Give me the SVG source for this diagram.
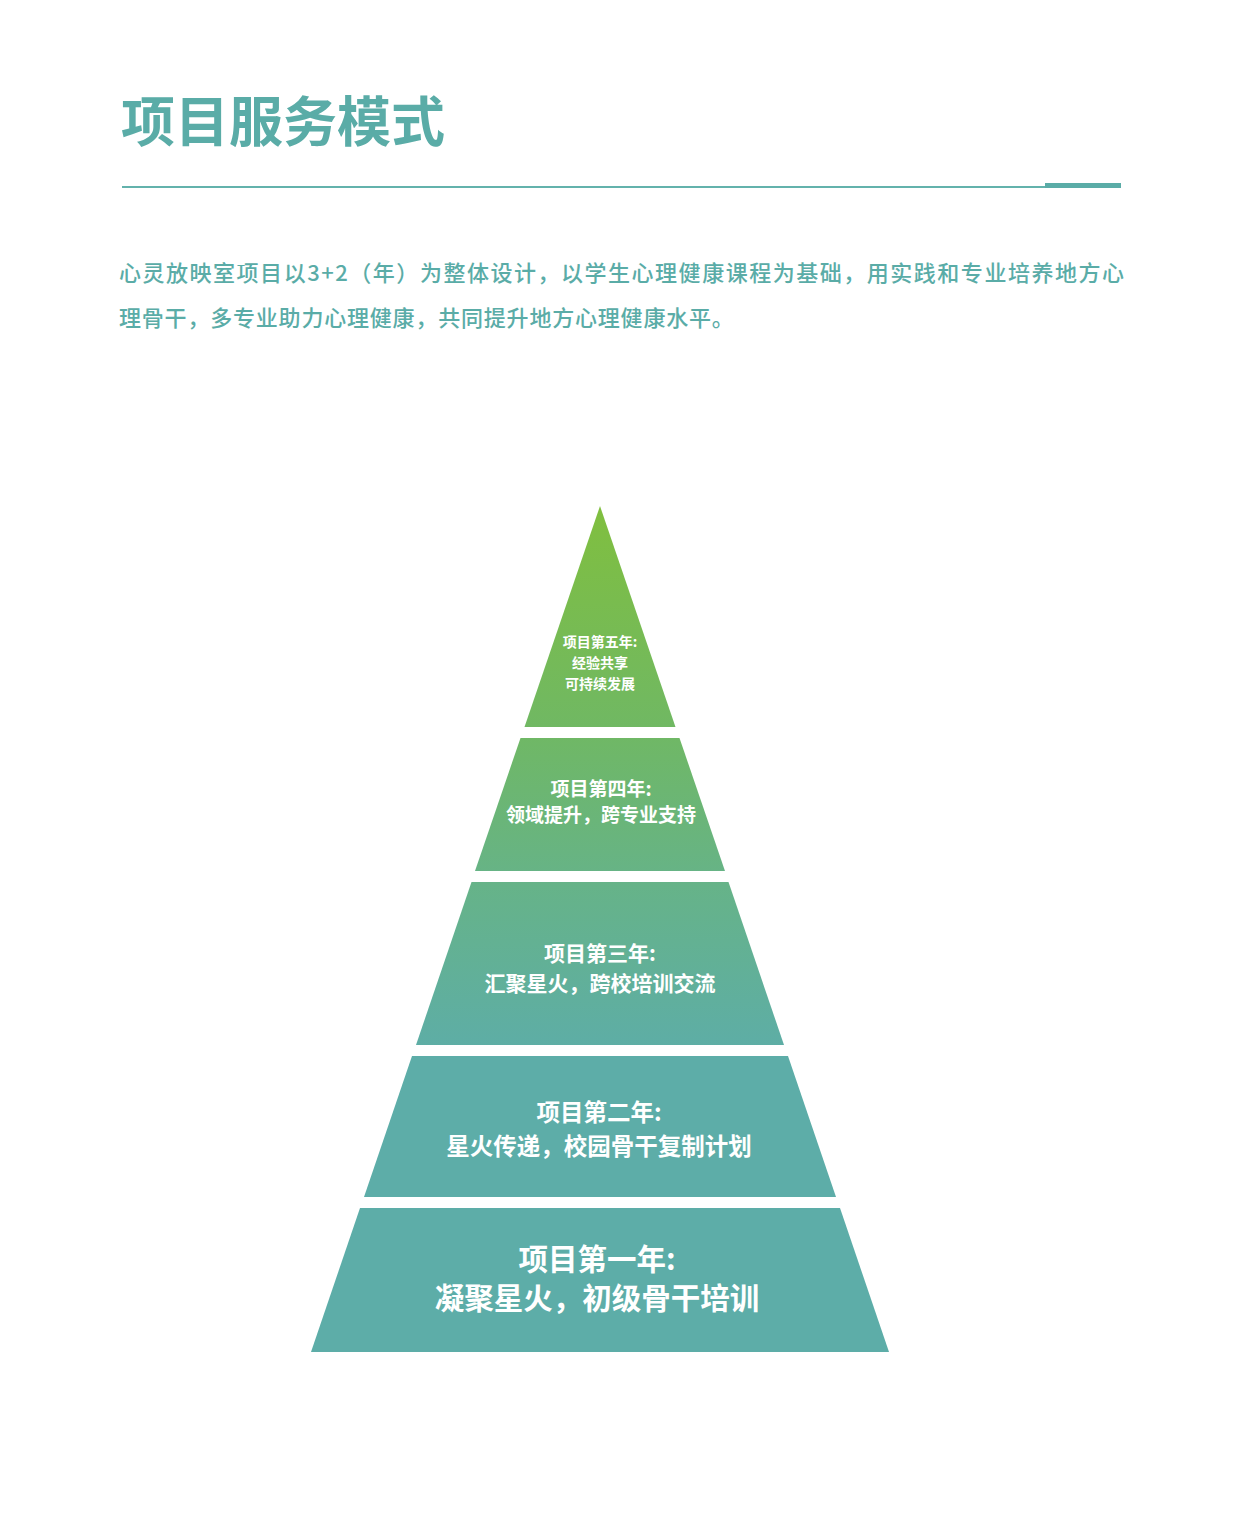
<svg xmlns="http://www.w3.org/2000/svg" width="1241" height="1539" viewBox="0 0 1241 1539">
  <style>
    .title { font-family: "Noto Sans CJK SC", "Noto Sans", sans-serif; font-weight: 700; font-size: 54px; fill: #5aaca7; }
    .para { font-family: "Noto Sans CJK SC", "Noto Sans", sans-serif; font-weight: 500; font-size: 22px; fill: #5aaca7; }
    .lbl { font-family: "Noto Sans CJK SC", "Noto Sans", sans-serif; font-weight: 700; fill: #ffffff; text-anchor: middle; }
  </style>
  <defs>
    <linearGradient id="pg" gradientUnits="userSpaceOnUse" x1="0" y1="506" x2="0" y2="1060">
      <stop offset="0" stop-color="#80bf3f"/>
      <stop offset="0.4" stop-color="#70b863"/>
      <stop offset="0.68" stop-color="#66b388"/>
      <stop offset="1" stop-color="#5dada8"/>
    </linearGradient>
  </defs>
  <rect width="1241" height="1539" fill="#ffffff"/>

  <g id="header">
    <text class="title" x="121" y="142">项目服务模式</text>
    <rect x="122" y="186" width="923" height="2" fill="#63b2ac"/>
    <rect x="1045" y="183" width="76" height="5" fill="#5aaca7"/>
  </g>

  <g id="intro">
    <text class="para" x="119" y="281" textLength="1005" lengthAdjust="spacing">心灵放映室项目以3+2（年）为整体设计，以学生心理健康课程为基础，用实践和专业培养地方心</text>
    <text class="para" x="119" y="326" letter-spacing="0.8">理骨干，多专业助力心理健康，共同提升地方心理健康水平。</text>
  </g>

  <g id="year5">
    <polygon points="600,506 675.5,727 524.5,727" fill="url(#pg)"/>
    <text class="lbl" x="600" y="647" font-size="14">项目第五年:</text>
    <text class="lbl" x="600" y="668" font-size="14">经验共享</text>
    <text class="lbl" x="600" y="689" font-size="14">可持续发展</text>
  </g>

  <g id="year4">
    <polygon points="520.5,738 679.5,738 725,871 475,871" fill="url(#pg)"/>
    <text class="lbl" x="601" y="796" font-size="19">项目第四年:</text>
    <text class="lbl" x="601" y="822" font-size="19">领域提升，跨专业支持</text>
  </g>

  <g id="year3">
    <polygon points="471.5,882 728.5,882 784,1045 416,1045" fill="url(#pg)"/>
    <text class="lbl" x="600" y="961" font-size="21">项目第三年:</text>
    <text class="lbl" x="600" y="991" font-size="21">汇聚星火，跨校培训交流</text>
  </g>

  <g id="year2">
    <polygon points="412,1056 788,1056 836,1197 364,1197" fill="#5dada8"/>
    <text class="lbl" x="599" y="1121" font-size="23.5">项目第二年:</text>
    <text class="lbl" x="599" y="1155" font-size="23.5">星火传递，校园骨干复制计划</text>
  </g>

  <g id="year1">
    <polygon points="360,1208 840,1208 889,1352 311,1352" fill="#5dada8"/>
    <text class="lbl" x="597" y="1270" font-size="29.5">项目第一年:</text>
    <text class="lbl" x="597" y="1309" font-size="29.5">凝聚星火，初级骨干培训</text>
  </g>

  <g id="connectors"></g>
</svg>
